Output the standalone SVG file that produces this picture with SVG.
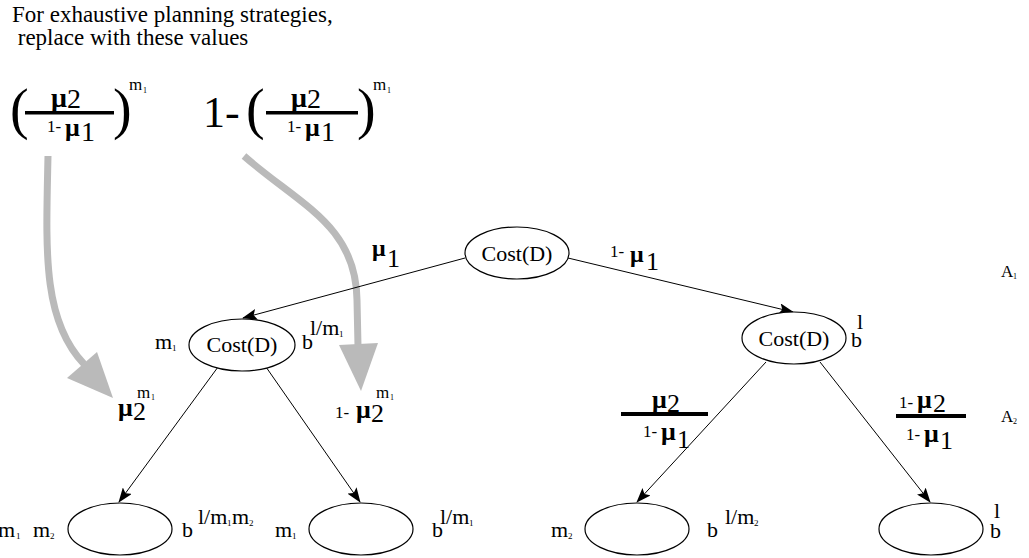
<svg xmlns="http://www.w3.org/2000/svg" width="1029" height="558" viewBox="0 0 1029 558">
<style>
text{font-family:"Liberation Serif","Times New Roman","DejaVu Serif",serif;fill:#000}
.node{fill:#fff;stroke:#000;stroke-width:1.2}
.edge{stroke:#000;stroke-width:1;fill:none;marker-end:url(#ah)}
.gray{stroke:#bababa;stroke-width:7;fill:none}
.gh{fill:#bababa}
.lbl{font-size:22px}
.sub{font-size:9px}
.mu{font-size:26px;font-weight:bold}
.dg{font-size:26px}
.sm{font-size:17px}
.tiny{font-size:8px}
</style>
<defs>
<marker id="ah" markerWidth="15" markerHeight="11" refX="14" refY="5.5" orient="auto" markerUnits="userSpaceOnUse">
<path d="M0,0 L15,5.5 L0,11 L3,5.5 z" fill="#000"/>
</marker>
</defs>

<g id="header">
<text x="12" y="22" font-size="23">For exhaustive planning strategies,</text>
<text x="12" y="45" font-size="23" xml:space="preserve"> replace with these values</text>
</g>

<g id="formula1">
<text x="10" y="128" font-size="56">(</text>
<text x="51" y="107" class="mu" style="font-size:28px">μ</text>
<text x="67" y="108" style="font-size:28px">2</text>
<rect x="25" y="111" width="89" height="3.5"/>
<text x="47" y="132" class="sm">1-</text>
<text x="65" y="136" class="mu">μ</text>
<text x="81" y="141" style="font-size:28px">1</text>
<text x="113" y="128" font-size="56">)</text>
<text x="129" y="90" class="sm">m</text>
<text x="143" y="93" class="tiny">1</text>
</g>

<g id="formula2">
<text x="203" y="127" font-size="44">1-</text>
<text x="246" y="128" font-size="56">(</text>
<text x="291" y="107" class="mu" style="font-size:28px">μ</text>
<text x="307" y="108" style="font-size:28px">2</text>
<rect x="266" y="111" width="92" height="3.5"/>
<text x="287" y="132" class="sm">1-</text>
<text x="305" y="136" class="mu">μ</text>
<text x="321" y="141" style="font-size:28px">1</text>
<text x="357" y="128" font-size="56">)</text>
<text x="373" y="90" class="sm">m</text>
<text x="387" y="93" class="tiny">1</text>
</g>

<g id="gray-arrows">
<path class="gray" d="M48 156 C46 250 42 320 84 364"/>
<polygon class="gh" points="67,378 97,352 113,398"/>
<path class="gray" d="M244 156 C300 205 356 225 357 300 L358 346"/>
<polygon class="gh" points="339,345 378,343 361,391"/>
</g>

<g id="connectors">
<line class="edge" x1="465" y1="258" x2="243" y2="318"/>
<line class="edge" x1="568" y1="258" x2="793" y2="312"/>
<line class="edge" x1="218" y1="367" x2="119" y2="502"/>
<line class="edge" x1="266" y1="367" x2="360" y2="502"/>
<line class="edge" x1="766" y1="362" x2="637" y2="502"/>
<line class="edge" x1="820" y1="362" x2="930" y2="502"/>
</g>

<g id="edge-labels">
<text x="372" y="256" class="mu" style="font-size:24px">μ</text>
<text x="387" y="267" class="dg">1</text>
<text x="610" y="257" class="sm">1-</text>
<text x="630" y="262" class="mu" style="font-size:24px">μ</text>
<text x="646" y="270" class="dg">1</text>

<text x="118" y="416" class="mu">μ</text>
<text x="133" y="420" class="dg">2</text>
<text x="137" y="398" class="sm">m</text>
<text x="151" y="400" class="tiny">1</text>

<text x="335" y="418" class="sm">1-</text>
<text x="356" y="418" class="mu">μ</text>
<text x="371" y="422" class="dg">2</text>
<text x="376" y="398" class="sm">m</text>
<text x="390" y="400" class="tiny">1</text>

<text x="652" y="408" class="mu">μ</text>
<text x="667" y="412" class="dg">2</text>
<rect x="621" y="412" width="87" height="4"/>
<text x="643" y="437" class="sm">1-</text>
<text x="661" y="440" class="mu">μ</text>
<text x="677" y="448" class="dg">1</text>

<text x="899" y="408" class="sm">1-</text>
<text x="917" y="408" class="mu">μ</text>
<text x="933" y="412" class="dg">2</text>
<rect x="896" y="414" width="70" height="4"/>
<text x="906" y="440" class="sm">1-</text>
<text x="924" y="442" class="mu">μ</text>
<text x="940" y="449" class="dg">1</text>
</g>

<g id="node-top">
<ellipse class="node" cx="517" cy="253" rx="52" ry="26"/>
<text x="517" y="261" class="lbl" text-anchor="middle">Cost(D)</text>
</g>

<g id="node-mid-left">
<ellipse class="node" cx="242" cy="345" rx="53" ry="26"/>
<text x="242" y="352" class="lbl" text-anchor="middle">Cost(D)</text>
<text x="155" y="349" class="lbl">m</text>
<text x="172" y="351" class="sub">1</text>
<text x="302" y="349" class="lbl">b</text>
<text x="310" y="335" class="lbl">l/m</text>
<text x="339" y="337" class="sub">1</text>
</g>

<g id="node-mid-right">
<ellipse class="node" cx="794" cy="338" rx="52" ry="26"/>
<text x="794" y="346" class="lbl" text-anchor="middle">Cost(D)</text>
<text x="851" y="347" class="lbl">b</text>
<text x="857" y="329" class="lbl">l</text>
</g>

<g id="node-bottom-1">
<ellipse class="node" cx="120" cy="529" rx="52" ry="26"/>
<text x="-2" y="537" class="lbl">m</text>
<text x="16" y="539" class="sub">1</text>
<text x="33" y="537" class="lbl">m</text>
<text x="50" y="539" class="sub">2</text>
<text x="182" y="537" class="lbl">b</text>
<text x="198" y="524" class="lbl">l/m</text>
<text x="227" y="526" class="sub">1</text>
<text x="232" y="524" class="lbl">m</text>
<text x="249" y="526" class="sub">2</text>
</g>

<g id="node-bottom-2">
<ellipse class="node" cx="361" cy="529" rx="52" ry="26"/>
<text x="275" y="537" class="lbl">m</text>
<text x="292" y="539" class="sub">1</text>
<text x="432" y="537" class="lbl">b</text>
<text x="440" y="524" class="lbl">l/m</text>
<text x="469" y="526" class="sub">1</text>
</g>

<g id="node-bottom-3">
<ellipse class="node" cx="637" cy="529" rx="52" ry="26"/>
<text x="551" y="537" class="lbl">m</text>
<text x="568" y="539" class="sub">2</text>
<text x="707" y="537" class="lbl">b</text>
<text x="725" y="524" class="lbl">l/m</text>
<text x="754" y="526" class="sub">2</text>
</g>

<g id="node-bottom-4">
<ellipse class="node" cx="931" cy="529" rx="52" ry="26"/>
<text x="990" y="538" class="lbl">b</text>
<text x="994" y="518" class="lbl">l</text>
</g>

<g id="levels">
<text x="1001" y="277" font-size="17">A</text>
<text x="1013" y="279" font-size="8">1</text>
<text x="1001" y="422" font-size="17">A</text>
<text x="1013" y="424" font-size="8">2</text>
</g>
</svg>
